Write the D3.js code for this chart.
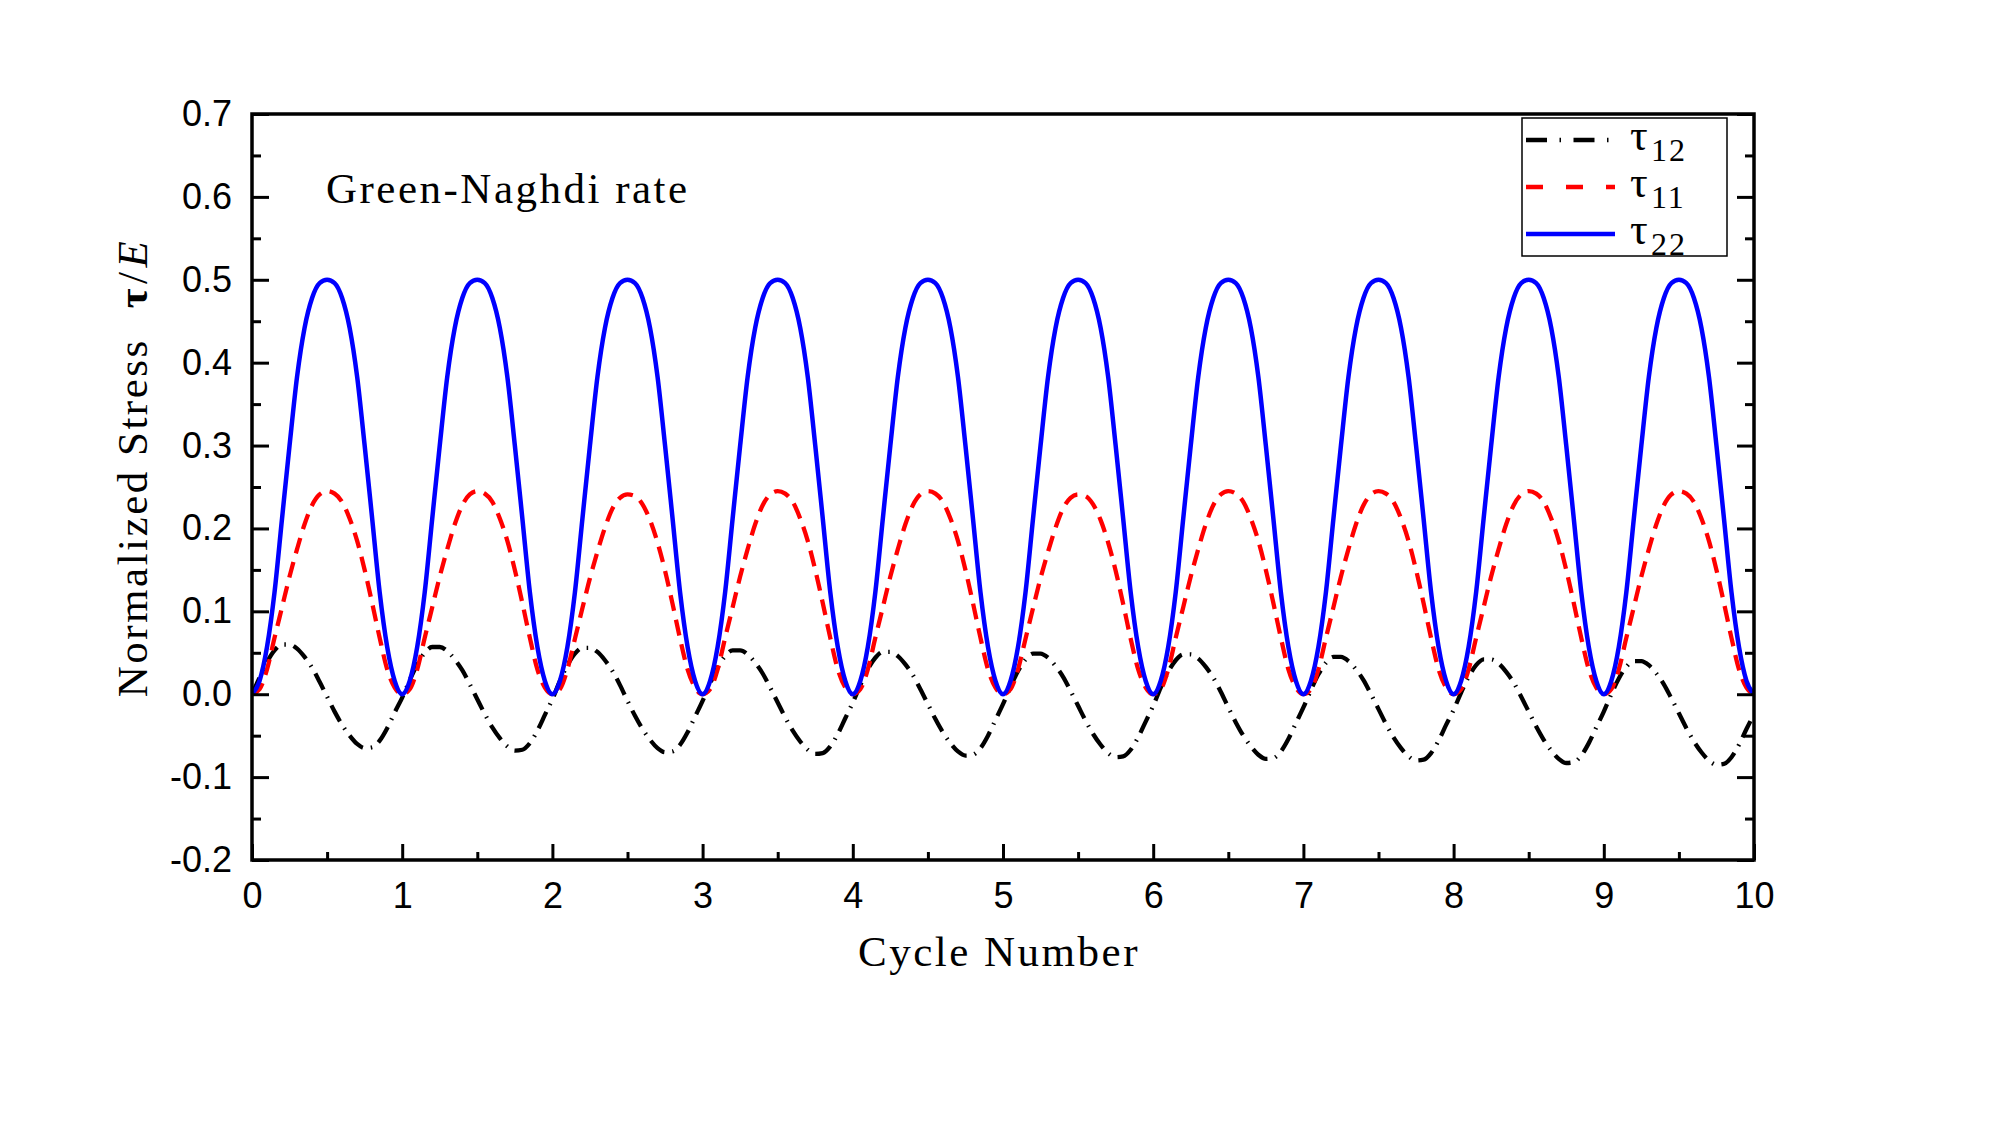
<!DOCTYPE html>
<html>
<head>
<meta charset="utf-8">
<script src="https://cdn.jsdelivr.net/npm/d3@7"></script>
<style>
  html, body { margin: 0; padding: 0; background: #fff; }
  svg { display: block; }
</style>
</head>
<body>
<div id="chart"></div>
<script>
// ---------------- data ----------------
const tStep = 0.05; // sample spacing in cycles
const xTicks = [0, 1, 2, 3, 4, 5, 6, 7, 8, 9, 10];
const xMinorTicks = [0.5, 1.5, 2.5, 3.5, 4.5, 5.5, 6.5, 7.5, 8.5, 9.5];
const yTicks = [-0.2, -0.1, 0.0, 0.1, 0.2, 0.3, 0.4, 0.5, 0.6, 0.7];
const yTickLabels = ["-0.2", "-0.1", "0.0", "0.1", "0.2", "0.3", "0.4", "0.5", "0.6", "0.7"];
const yMinorTicks = [-0.15, -0.05, 0.05, 0.15, 0.25, 0.35, 0.45, 0.55, 0.65];

// tau22 (blue, solid)
const tau22 = [
  0, 0.016, 0.057, 0.123, 0.212, 0.30, 0.383, 0.442, 0.478, 0.496, 0.5, 0.496, 0.478, 0.442, 0.383, 0.30, 0.212, 0.123, 0.057, 0.016,
  0, 0.016, 0.057, 0.123, 0.212, 0.30, 0.383, 0.442, 0.478, 0.496, 0.5, 0.496, 0.478, 0.442, 0.383, 0.30, 0.212, 0.123, 0.057, 0.016,
  0, 0.016, 0.057, 0.123, 0.212, 0.30, 0.383, 0.442, 0.478, 0.496, 0.5, 0.496, 0.478, 0.442, 0.383, 0.30, 0.212, 0.123, 0.057, 0.016,
  0, 0.016, 0.057, 0.123, 0.212, 0.30, 0.383, 0.442, 0.478, 0.496, 0.5, 0.496, 0.478, 0.442, 0.383, 0.30, 0.212, 0.123, 0.057, 0.016,
  0, 0.016, 0.057, 0.123, 0.212, 0.30, 0.383, 0.442, 0.478, 0.496, 0.5, 0.496, 0.478, 0.442, 0.383, 0.30, 0.212, 0.123, 0.057, 0.016,
  0, 0.016, 0.057, 0.123, 0.212, 0.30, 0.383, 0.442, 0.478, 0.496, 0.5, 0.496, 0.478, 0.442, 0.383, 0.30, 0.212, 0.123, 0.057, 0.016,
  0, 0.016, 0.057, 0.123, 0.212, 0.30, 0.383, 0.442, 0.478, 0.496, 0.5, 0.496, 0.478, 0.442, 0.383, 0.30, 0.212, 0.123, 0.057, 0.016,
  0, 0.016, 0.057, 0.123, 0.212, 0.30, 0.383, 0.442, 0.478, 0.496, 0.5, 0.496, 0.478, 0.442, 0.383, 0.30, 0.212, 0.123, 0.057, 0.016,
  0, 0.016, 0.057, 0.123, 0.212, 0.30, 0.383, 0.442, 0.478, 0.496, 0.5, 0.496, 0.478, 0.442, 0.383, 0.30, 0.212, 0.123, 0.057, 0.016,
  0, 0.016, 0.057, 0.123, 0.212, 0.30, 0.383, 0.442, 0.478, 0.496, 0.5, 0.496, 0.478, 0.442, 0.383, 0.30, 0.212, 0.123, 0.057, 0.016,
  0
];

// tau11 (red, dashed)
const tau11 = [
  0, 0.006, 0.03, 0.068, 0.105, 0.142, 0.175, 0.205, 0.228, 0.241, 0.245, 0.242, 0.232, 0.212, 0.185, 0.15, 0.11, 0.068, 0.03, 0.008,
  0, 0.006, 0.03, 0.068, 0.105, 0.142, 0.175, 0.205, 0.228, 0.241, 0.245, 0.242, 0.232, 0.212, 0.185, 0.15, 0.11, 0.068, 0.03, 0.008,
  0, 0.006, 0.03, 0.067, 0.104, 0.14, 0.172, 0.201, 0.224, 0.237, 0.241, 0.239, 0.229, 0.21, 0.183, 0.149, 0.109, 0.067, 0.03, 0.008,
  0, 0.006, 0.03, 0.068, 0.105, 0.142, 0.175, 0.205, 0.228, 0.241, 0.245, 0.242, 0.232, 0.212, 0.185, 0.15, 0.11, 0.068, 0.03, 0.008,
  0, 0.006, 0.03, 0.068, 0.105, 0.142, 0.175, 0.205, 0.228, 0.241, 0.245, 0.242, 0.232, 0.212, 0.185, 0.15, 0.11, 0.068, 0.03, 0.008,
  0, 0.006, 0.03, 0.067, 0.104, 0.14, 0.172, 0.201, 0.224, 0.237, 0.241, 0.239, 0.229, 0.21, 0.183, 0.149, 0.109, 0.067, 0.03, 0.008,
  0, 0.006, 0.03, 0.068, 0.105, 0.142, 0.175, 0.205, 0.228, 0.241, 0.245, 0.242, 0.232, 0.212, 0.185, 0.15, 0.11, 0.068, 0.03, 0.008,
  0, 0.006, 0.03, 0.068, 0.105, 0.142, 0.175, 0.205, 0.228, 0.241, 0.245, 0.242, 0.232, 0.212, 0.185, 0.15, 0.11, 0.068, 0.03, 0.008,
  0, 0.006, 0.03, 0.068, 0.105, 0.142, 0.175, 0.205, 0.228, 0.241, 0.245, 0.242, 0.232, 0.212, 0.185, 0.15, 0.11, 0.068, 0.03, 0.008,
  0, 0.006, 0.03, 0.068, 0.105, 0.142, 0.175, 0.205, 0.228, 0.241, 0.245, 0.242, 0.232, 0.212, 0.185, 0.15, 0.11, 0.068, 0.03, 0.008,
  0
];

// tau12 (black, dash-dot)
const tau12 = [
  0.000, 0.020, 0.039, 0.053, 0.060, 0.060, 0.055, 0.045, 0.032, 0.015, -0.003, -0.021, -0.037, -0.050, -0.060, -0.065, -0.064, -0.056, -0.041, -0.022,
  -0.004, 0.017, 0.036, 0.050, 0.057, 0.057, 0.052, 0.042, 0.029, 0.012, -0.006, -0.024, -0.040, -0.053, -0.063, -0.068, -0.067, -0.059, -0.044, -0.025,
  -0.006, 0.016, 0.035, 0.049, 0.056, 0.056, 0.051, 0.041, 0.028, 0.011, -0.008, -0.026, -0.042, -0.055, -0.065, -0.070, -0.069, -0.061, -0.046, -0.027,
  -0.008, 0.013, 0.032, 0.046, 0.053, 0.053, 0.048, 0.038, 0.025, 0.008, -0.010, -0.028, -0.044, -0.057, -0.067, -0.072, -0.071, -0.063, -0.048, -0.029,
  -0.010, 0.011, 0.030, 0.044, 0.051, 0.051, 0.046, 0.036, 0.023, 0.006, -0.012, -0.030, -0.046, -0.059, -0.069, -0.074, -0.073, -0.065, -0.050, -0.031,
  -0.012, 0.009, 0.028, 0.042, 0.049, 0.049, 0.044, 0.034, 0.021, 0.004, -0.014, -0.032, -0.048, -0.061, -0.071, -0.076, -0.075, -0.067, -0.052, -0.033,
  -0.014, 0.008, 0.027, 0.041, 0.048, 0.048, 0.043, 0.033, 0.020, 0.003, -0.016, -0.034, -0.050, -0.063, -0.073, -0.078, -0.077, -0.069, -0.054, -0.035,
  -0.016, 0.005, 0.024, 0.038, 0.045, 0.045, 0.040, 0.030, 0.017, 0.000, -0.018, -0.036, -0.052, -0.065, -0.075, -0.080, -0.079, -0.071, -0.056, -0.037,
  -0.019, 0.002, 0.021, 0.035, 0.042, 0.042, 0.037, 0.027, 0.014, -0.003, -0.021, -0.039, -0.055, -0.068, -0.078, -0.083, -0.082, -0.074, -0.059, -0.040,
  -0.021, 0.000, 0.019, 0.033, 0.040, 0.040, 0.035, 0.025, 0.012, -0.005, -0.023, -0.041, -0.057, -0.070, -0.080, -0.085, -0.084, -0.076, -0.061, -0.042,
  -0.024
];

const seriesNames = ["τ12", "τ11", "τ22"];

// ---------------- layout ----------------
const W = 2000, H = 1125;
const plot = { left: 252, right: 1754, top: 114, bottom: 860 };
const serif = "'Liberation Serif', 'Times New Roman', serif";
const sans = "'Liberation Sans', Arial, sans-serif";

const svg = d3.select("#chart").append("svg")
  .attr("width", W).attr("height", H)
  .attr("viewBox", `0 0 ${W} ${H}`);

svg.append("rect").attr("width", W).attr("height", H).attr("fill", "#fff");

const x = d3.scaleLinear().domain([0, 10]).range([plot.left, plot.right]);
const y = d3.scaleLinear().domain([-0.2, 0.7]).range([plot.bottom, plot.top]);

const toPts = arr => arr.map((v, i) => ({ t: i * tStep, v }));

svg.append("clipPath").attr("id", "clip")
  .append("rect")
  .attr("x", plot.left).attr("y", plot.top - 5)
  .attr("width", plot.right - plot.left).attr("height", plot.bottom - plot.top + 5);

const line = d3.line()
  .x(d => x(d.t))
  .y(d => y(d.v))
  .curve(d3.curveMonotoneX);

const gLines = svg.append("g").attr("clip-path", "url(#clip)");

gLines.append("path")
  .datum(toPts(tau12))
  .attr("d", line)
  .attr("fill", "none")
  .attr("stroke", "#000")
  .attr("stroke-width", 4.3)
  .attr("stroke-dasharray", "18,8,1.5,8");

gLines.append("path")
  .datum(toPts(tau11))
  .attr("d", line)
  .attr("fill", "none")
  .attr("stroke", "#ff0000")
  .attr("stroke-width", 4.3)
  .attr("stroke-dasharray", "16,9");

gLines.append("path")
  .datum(toPts(tau22))
  .attr("d", line)
  .attr("fill", "none")
  .attr("stroke", "#0000ff")
  .attr("stroke-width", 4.5);

// ---------------- axes ----------------
function styleAxis(g) {
  g.select(".domain").remove();
  g.selectAll(".tick line").attr("stroke", "#000").attr("stroke-width", 3);
  g.selectAll(".tick text").attr("fill", "#000")
    .style("font-family", sans).style("font-size", "36px");
}

// left
svg.append("g")
  .attr("transform", `translate(${plot.left},0)`)
  .call(d3.axisLeft(y).tickValues(yTicks)
    .tickFormat((d, i) => yTickLabels[i])
    .tickSizeInner(-17).tickSizeOuter(0).tickPadding(20))
  .call(styleAxis);
svg.append("g")
  .attr("transform", `translate(${plot.left},0)`)
  .call(d3.axisLeft(y).tickValues(yMinorTicks).tickFormat("")
    .tickSizeInner(-9).tickSizeOuter(0))
  .call(styleAxis);

// right
svg.append("g")
  .attr("transform", `translate(${plot.right},0)`)
  .call(d3.axisRight(y).tickValues(yTicks).tickFormat("")
    .tickSizeInner(-17).tickSizeOuter(0))
  .call(styleAxis);
svg.append("g")
  .attr("transform", `translate(${plot.right},0)`)
  .call(d3.axisRight(y).tickValues(yMinorTicks).tickFormat("")
    .tickSizeInner(-9).tickSizeOuter(0))
  .call(styleAxis);

// bottom
svg.append("g")
  .attr("transform", `translate(0,${plot.bottom})`)
  .call(d3.axisBottom(x).tickValues(xTicks).tickFormat(d3.format("d"))
    .tickSizeInner(-16).tickSizeOuter(0).tickPadding(22))
  .call(styleAxis);
svg.append("g")
  .attr("transform", `translate(0,${plot.bottom})`)
  .call(d3.axisBottom(x).tickValues(xMinorTicks).tickFormat("")
    .tickSizeInner(-8).tickSizeOuter(0))
  .call(styleAxis);

// frame
svg.append("rect")
  .attr("x", plot.left).attr("y", plot.top)
  .attr("width", plot.right - plot.left)
  .attr("height", plot.bottom - plot.top)
  .attr("fill", "none")
  .attr("stroke", "#000")
  .attr("stroke-width", 3.5);

// ---------------- labels ----------------
svg.append("text")
  .attr("x", (plot.left + plot.right) / 2 - 4)
  .attr("y", 966)
  .attr("text-anchor", "middle")
  .style("font-family", serif).style("font-size", "43px")
  .style("letter-spacing", "2.5px")
  .text("Cycle Number");

const yl = svg.append("text")
  .attr("transform", `translate(147,468) rotate(-90)`)
  .attr("text-anchor", "middle")
  .style("font-family", serif).style("font-size", "43px")
  .style("letter-spacing", "2.5px");
yl.append("tspan").text("Normalized Stress");
yl.append("tspan").attr("dx", 30).style("font-weight", "bold").text("τ");
yl.append("tspan").attr("dx", 2).text("/");
yl.append("tspan").attr("dx", 2).style("font-style", "italic").text("E");

svg.append("text")
  .attr("x", 326).attr("y", 203)
  .style("font-family", serif).style("font-size", "43px")
  .style("letter-spacing", "2.5px")
  .text("Green-Naghdi rate");

// ---------------- legend ----------------
const leg = { x0: 1522, y0: 118, x1: 1727, y1: 256 };
svg.append("rect")
  .attr("x", leg.x0).attr("y", leg.y0)
  .attr("width", leg.x1 - leg.x0).attr("height", leg.y1 - leg.y0)
  .attr("fill", "#fff").attr("stroke", "#000").attr("stroke-width", 1.5);

const legendItems = [
  { name: seriesNames[0], color: "#000", dash: "21,12.5,1.5,12.5", sub: "12" },
  { name: seriesNames[1], color: "#ff0000", dash: "17,23", sub: "11" },
  { name: seriesNames[2], color: "#0000ff", dash: null, sub: "22" }
];
const rowY = [140, 187, 234];
legendItems.forEach((it, i) => {
  const ly = rowY[i];
  const p = svg.append("line")
    .attr("x1", 1526).attr("x2", 1615)
    .attr("y1", ly).attr("y2", ly)
    .attr("stroke", it.color).attr("stroke-width", 4.3);
  if (it.dash) p.attr("stroke-dasharray", it.dash);
  svg.append("text")
    .attr("x", 1630).attr("y", ly + 10)
    .style("font-family", serif).style("font-size", "44px")
    .text("τ");
  svg.append("text")
    .attr("x", 1651).attr("y", ly + 21)
    .style("font-family", serif).style("font-size", "32px")
    .style("letter-spacing", "2px")
    .text(it.sub);
});
</script>
</body>
</html>
